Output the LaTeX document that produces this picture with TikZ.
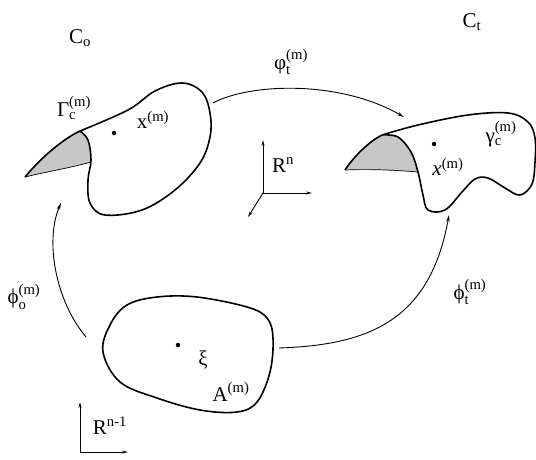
\documentclass[tikz,border=0pt]{standalone}
\usepackage{amsmath}
\usepackage{fontspec}
\setmainfont{Liberation Serif}
\usetikzlibrary{arrows.meta}
\definecolor{shadegray}{gray}{0.78}
\tikzset{
  outline/.style={line width=1.6pt, line join=round},
  thinedge/.style={line width=0.7pt},
  conn/.style={line width=0.9pt, -{Stealth[length=7pt,width=3.5pt]}},
  axis/.style={line width=0.9pt, -{Stealth[length=6pt,width=3pt]}},
  lab/.style={inner sep=0pt, font=\fontsize{21}{23}\selectfont},
  pt/.style={circle, fill, inner sep=0pt, minimum size=4.5pt}
}
\begin{document}
\begin{tikzpicture}[x=1pt,y=-1pt]
\useasboundingbox (0,0) rectangle (536,459);

% ---- left blob C0 ----
\fill[shadegray] plot[smooth, tension=0.6] coordinates {(80,131) (88,140) (91,160)}
  -- (91,162) .. controls (70,168) and (45,172) .. (25,177)
  .. controls (45,153) and (67,137) .. (80,131) -- cycle;
\draw[outline] plot[smooth, tension=0.6] coordinates {(80,131) (128,110) (155,91) (182,83) (202,92) (210,113) (210,137) (200,163) (175,190) (142,210) (105,215) (90,203) (88,180) (91,160) (88,140) (80,131)};
\draw[outline] (80,131) .. controls (67,137) and (45,153) .. (25,177);
\draw[thinedge] (25,177) .. controls (45,172) and (70,168) .. (91,162);
\node[pt] (x0) at (114,133) {};

% ---- right blob Ct ----
\fill[shadegray] plot[smooth, tension=0.6] coordinates {(382,135) (398,137) (411,152) (418,172)}
  .. controls (395,170) and (370,169) .. (345,170)
  .. controls (355,155) and (370,141) .. (382,135) -- cycle;
\draw[outline] plot[smooth, tension=0.6] coordinates {(382,135) (418,125) (468,115) (508,113) (528,122) (535,138) (535,162) (532,184) (520,195) (505,188) (488,178) (475,179) (462,192) (445,210) (428,210) (423,195) (418,172) (411,152) (398,137) (382,135)};
\draw[outline] (382,135) .. controls (370,141) and (355,155) .. (345,170);
\draw[thinedge] (345,170) .. controls (370,169) and (395,170) .. (418,172);
\node[pt] (xt) at (434,144) {};

% ---- bottom blob A ----
\draw[outline] plot[smooth cycle, tension=0.6] coordinates {(103,352) (110,325) (127,305) (157,297) (197,297) (247,307) (267,318) (273,338) (270,372) (257,402) (237,412) (200,410) (157,398) (120,382)};
\node[pt] (xi) at (178,345) {};

% ---- labels ----
\node[lab] (C0) at (80,38) {$\text{C}_{\text{o}}$};
\node[lab] (Ct) at (472,22) {$\text{C}_{\text{t}}$};
\node[lab] (phit) at (291,62) {$\text{φ}_{\text{t}}^{\text{(m)}}$};
\node[lab] (Gam) at (74,108) {$\text{Γ}_{\text{c}}^{\text{(m)}}$};
\node[lab] (xl) at (153,120) {$\text{x}^{\text{(m)}}$};
\node[lab] (Rn) at (283,165) {$\text{R}^{\text{n}}$};
\node[lab] (gam) at (501,134) {$\text{γ}_{\text{c}}^{\text{(m)}}$};
\node[lab] (xr) at (448,167) {$\textit{x}^{\text{(m)}}$};
\node[lab] (phi0) at (24,297) {$\text{ϕ}_{\text{o}}^{\text{(m)}}$};
\node[lab] (xil) at (203,360) {$\text{ξ}$};
\node[lab] (Al) at (231,392) {$\text{A}^{\text{(m)}}$};
\node[lab] (phiT) at (470,292) {$\text{ϕ}_{\text{t}}^{\text{(m)}}$};
\node[lab] (Rn1) at (110,426) {$\text{R}^{\text{n-1}}$};

% ---- connectors ----
\coordinate (a1) at (213,103);
\coordinate (b1) at (404,117);
\draw[conn] (a1) .. controls (250,83) and (340,80) .. (b1);
\coordinate (a2) at (86,337);
\coordinate (b2) at (61,203);
\draw[conn] (a2) .. controls (55,300) and (45,240) .. (b2);
\coordinate (a3) at (279,348);
\coordinate (b3) at (449,215);
\draw[conn] (a3) .. controls (370,345) and (430,320) .. (b3);

% ---- axes Rn ----
\coordinate (o1) at (263,193);
\coordinate (o1u) at (263,140);
\coordinate (o1r) at (312,193);
\coordinate (o1d) at (248,217);
\draw[axis] (o1) -- (o1u);
\draw[axis] (o1) -- (o1r);
\draw[axis] (o1) -- (o1d);

% ---- axes Rn-1 ----
\coordinate (o2) at (80,452);
\coordinate (o2u) at (80,402);
\coordinate (o2r) at (128,452);
\draw[axis] (o2) -- (o2u);
\draw[axis] (o2) -- (o2r);
\end{tikzpicture}
\end{document}
